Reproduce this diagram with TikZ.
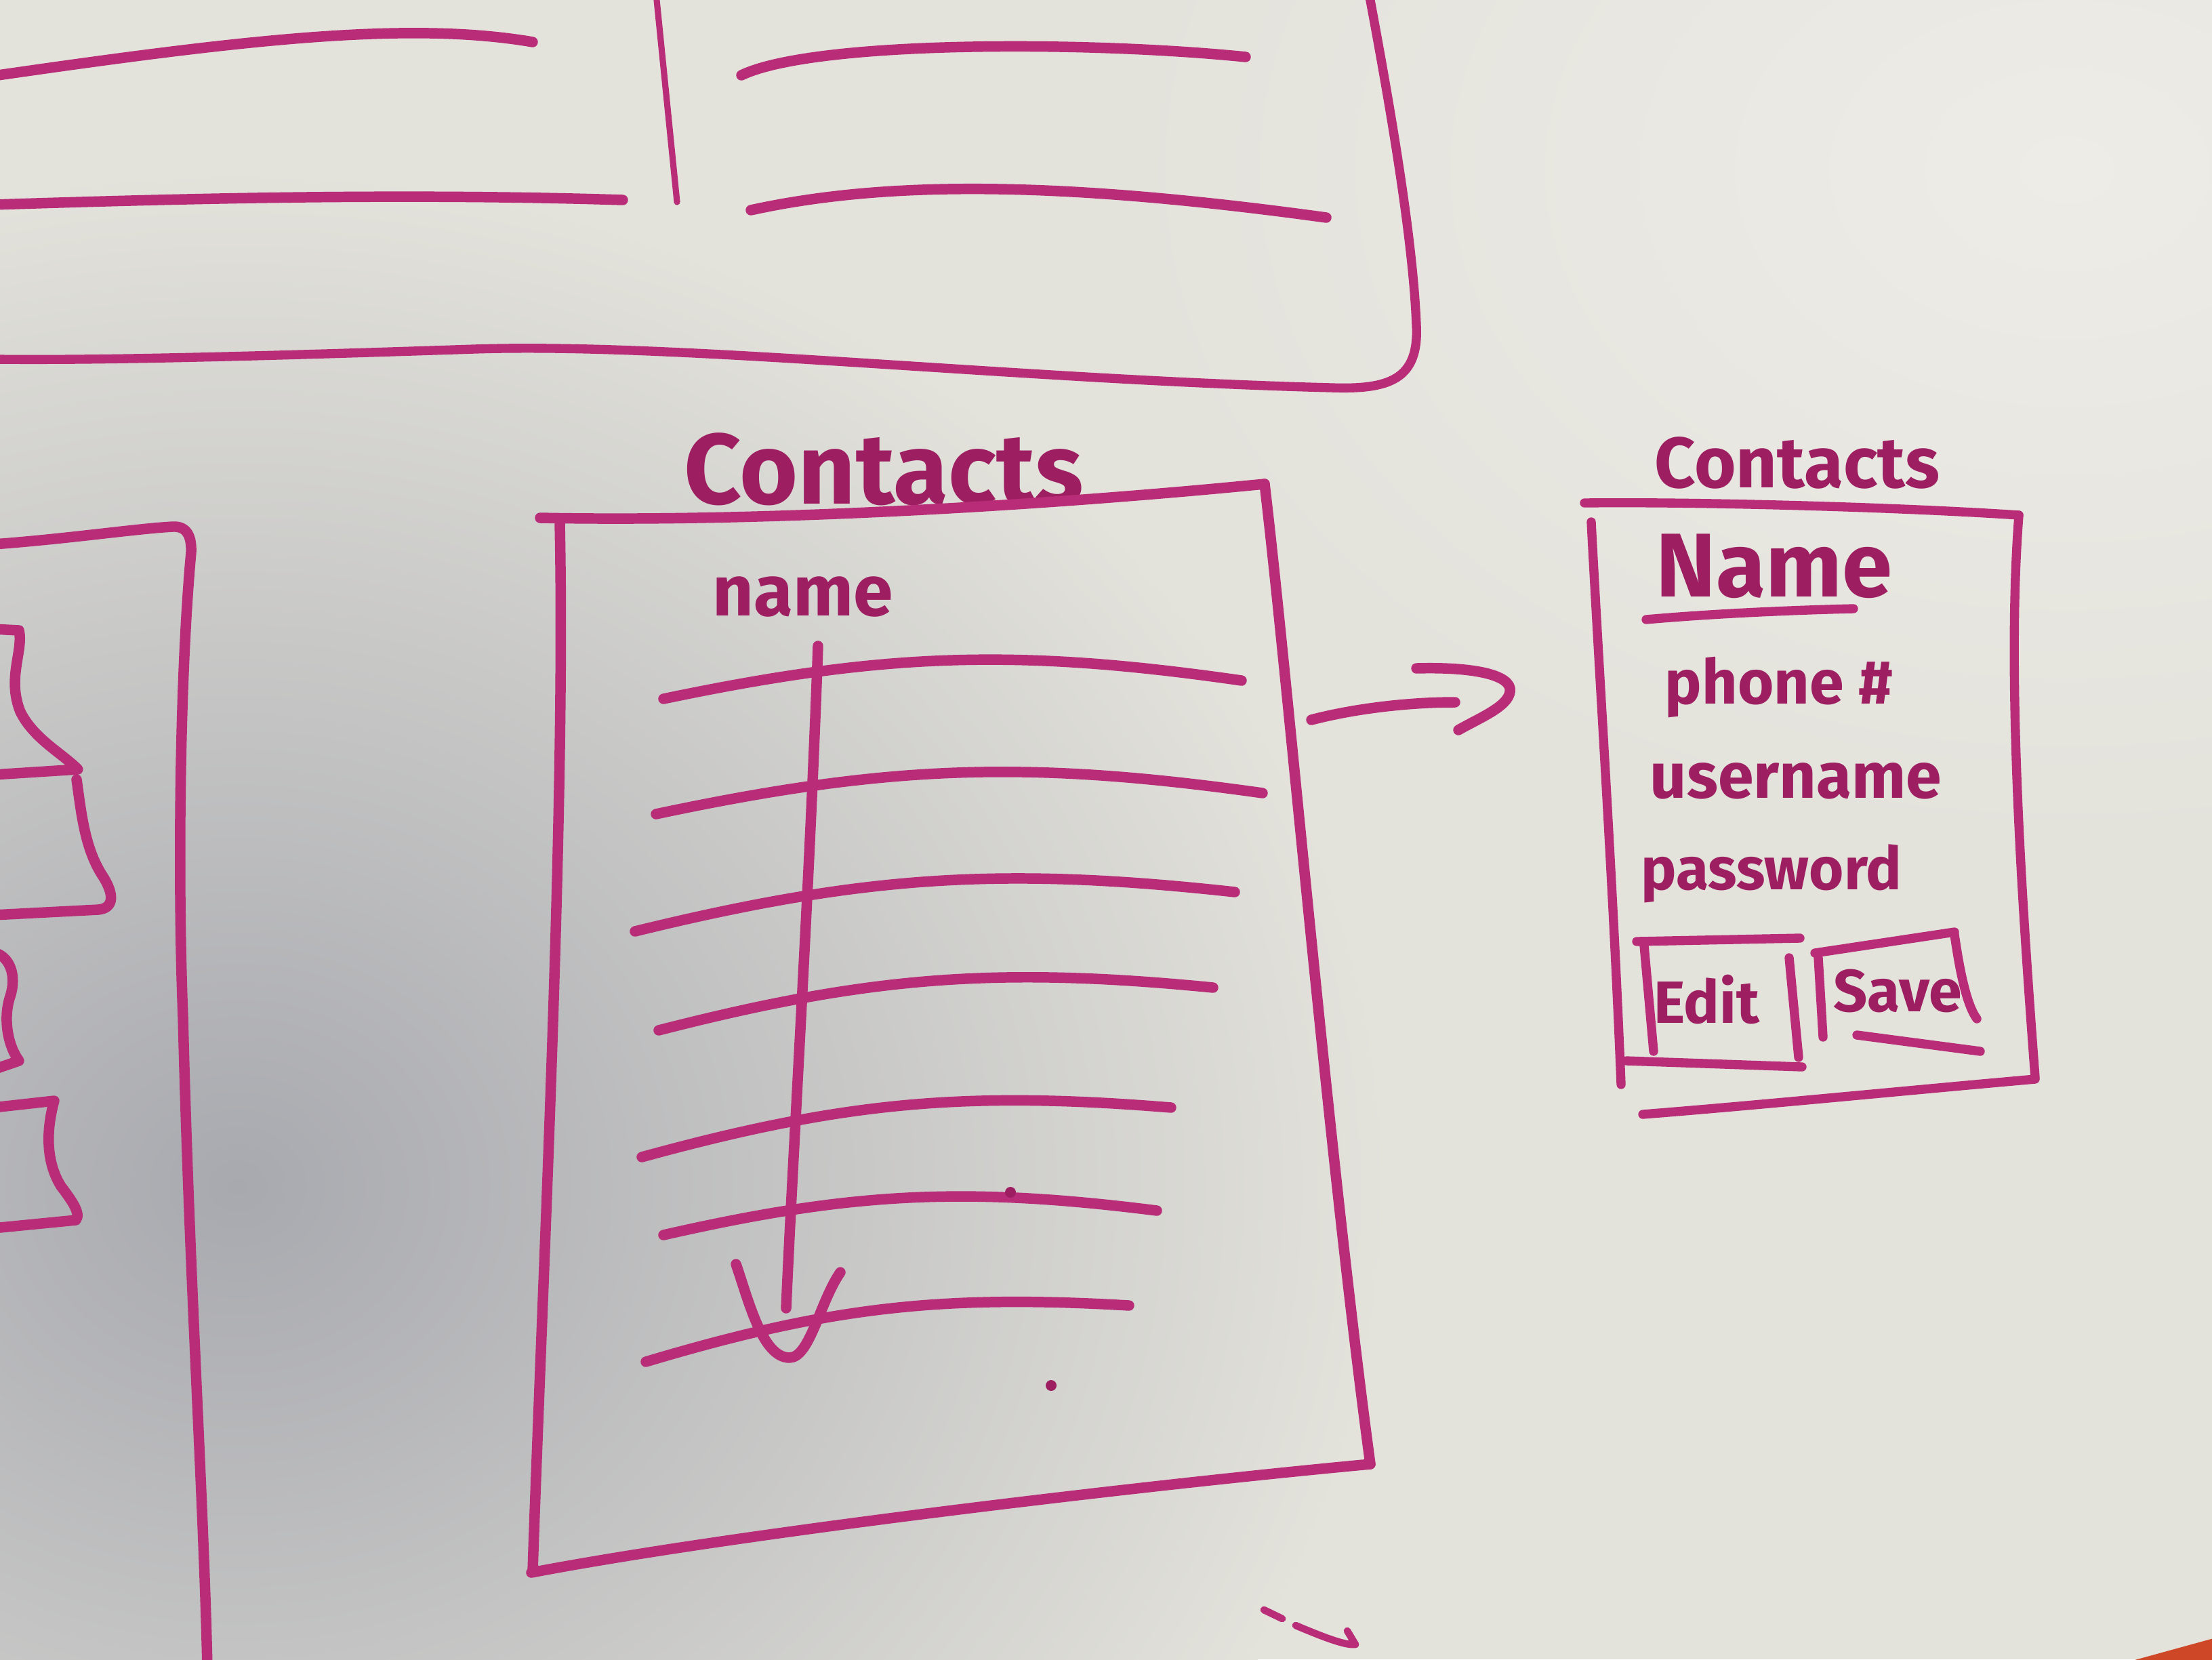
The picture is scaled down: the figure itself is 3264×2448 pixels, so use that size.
\documentclass[tikz,border=0pt]{standalone}
\usepackage{fontspec}
\newfontfamily\markerfont{Fira Sans}
\usepackage{tikz}
\usetikzlibrary{positioning}
\definecolor{board}{RGB}{227,226,219}
\definecolor{boardlight}{RGB}{237,236,231}
\definecolor{boardshade}{RGB}{168,169,175}
\definecolor{ink}{RGB}{184,44,120}
\definecolor{inkdark}{RGB}{158,30,98}
\definecolor{trim}{RGB}{206,72,40}
\newcommand\inkfont[1]{\markerfont\bfseries\fontsize{#1}{#1}\selectfont}
\tikzset{
  marker/.style={draw=ink, line width=4.4pt, line cap=round, line join=round},
  thinmarker/.style={draw=ink, line width=2.6pt, line cap=round, line join=round},
  framemarker/.style={draw=ink, line width=3.8pt, line cap=round, line join=round},
  inkdot/.style={fill=inkdark, draw=none}
}

\begin{document}
\begin{tikzpicture}[
  x=0.01cm, y=-0.01cm,
  % --- marker text ---
  scrawl/.style={text=inkdark, inner sep=0pt},
]

% --- Board ---
\useasboundingbox (0,0) rectangle (3264,2448);
\fill[board] (0,0) rectangle (3264,2448);
\shade[inner color=boardshade, outer color=board] (350,1750) ellipse [x radius=17cm, y radius=15cm];
\shade[inner color=boardlight, outer color=board] (3050,250) ellipse [x radius=14cm, y radius=10cm];
\fill[trim] (3110,2460) -- (3270,2416) -- (3270,2460) -- cycle;

% --- Top panel (cut off by the edge) ---
\draw[marker] (-10,112) .. controls (350,60) and (600,30) .. (786,62);
\draw[marker] (-10,302) .. controls (300,292) and (600,285) .. (919,295);
\draw[thinmarker] (968,-10) -- (999,298);
\draw[marker] (1094,111) .. controls (1200,60) and (1600,60) .. (1838,84);
\draw[marker] (1108,310) .. controls (1300,268) and (1550,265) .. (1957,321);
\draw[framemarker] (2020,-10) .. controls (2050,150) and (2085,350) .. (2090,480)
  .. controls (2094,560) and (2050,575) .. (1964,572)
  .. controls (1500,560) and (1000,505) .. (700,515)
  .. controls (400,525) and (150,532) .. (-10,530);

% --- Left panel (cut off by the edge) ---
\draw[marker] (-10,803) .. controls (100,795) and (200,780) .. (255,777)
  .. controls (275,776) and (283,790) .. (282,815)
  .. controls (265,1000) and (262,1300) .. (270,1500)
  .. controls (280,1900) and (300,2200) .. (306,2460);
\draw[marker] (-10,928) -- (28,930) .. controls (35,960) and (10,1000) .. (30,1050)
  .. controls (50,1090) and (90,1110) .. (115,1135) -- (-10,1143);
\draw[marker] (113,1150) .. controls (120,1200) and (125,1250) .. (150,1290)
  .. controls (170,1320) and (168,1340) .. (145,1342) -- (-10,1350);
\draw[marker] (-10,1405) .. controls (15,1410) and (25,1440) .. (15,1470)
  .. controls (5,1500) and (10,1540) .. (28,1565) -- (-10,1578);
\draw[marker] (-10,1634) -- (80,1624) .. controls (70,1660) and (65,1710) .. (90,1750)
  .. controls (105,1770) and (120,1790) .. (112,1800) -- (-10,1812);

% --- Contact list ---
\node[scrawl, font=\inkfont{42}] (listtitle) at (1304,692) {Contacts};
\draw[marker] (797,764) .. controls (1100,770) and (1500,750) .. (1866,714);
\draw[marker] (1866,714) .. controls (1900,1000) and (1960,1700) .. (2022,2160);
\draw[marker] (2022,2160) .. controls (1700,2190) and (1100,2260) .. (784,2320);
\draw[marker] (826,772) .. controls (835,1200) and (800,1900) .. (786,2318);
\node[scrawl, font=\inkfont{30}] (listheader) at (1185,880) {name};

% list rows
\foreach \ax/\ay/\bx/\by in {979/1031/1832/1004, 968/1201/1863/1170, 937/1374/1822/1316,
    972/1520/1790/1457, 947/1707/1728/1634, 979/1822/1707/1786, 953/2009/1666/1926} {
  \draw[marker] (\ax,\ay) to[bend left=10] (\bx,\by);
}

% scroll arrow
\coordinate (scrolltop) at (1207,953);
\coordinate (scrollend) at (1160,1930);
\draw[marker] (scrolltop) .. controls (1195,1300) and (1170,1700) .. (scrollend);
\draw[marker] (1086,1865) .. controls (1105,1920) and (1125,2003) .. (1165,2003)
  .. controls (1195,2003) and (1210,1920) .. (1240,1877);

% stray marks
\fill[inkdot] (1491,1759) circle (0.08cm);
\fill[inkdot] (1551,2044) circle (0.08cm);
\draw[marker, line width=3pt] (1865,2375) -- (1892,2388);
\draw[marker, line width=3pt] (1912,2398) .. controls (1950,2414) and (1985,2428) .. (2000,2426) -- (1988,2406);

% --- Arrow to detail view ---
\coordinate (listedge) at (1935,1062);
\coordinate (detailhead) at (2147,1036);
\draw[marker] (listedge) .. controls (2000,1045) and (2080,1036) .. (detailhead);
\draw[marker] (2090,986) .. controls (2160,984) and (2222,992) .. (2228,1015)
  .. controls (2232,1040) and (2185,1058) .. (2152,1077);

% --- Contact detail ---
\node[scrawl, font=\inkfont{30}] (detailtitle) at (2652,683) {Contacts};
\draw[framemarker] (2338,742) .. controls (2500,740) and (2800,748) .. (2979,760);
\draw[framemarker] (2979,760) .. controls (2960,1000) and (2985,1350) .. (3003,1590);
\draw[framemarker] (3003,1592) .. controls (2800,1610) and (2600,1630) .. (2424,1644);
\draw[framemarker] (2348,770) .. controls (2360,1000) and (2380,1300) .. (2392,1600);

\node[scrawl, font=\inkfont{38}] (detailname) at (2618,835) {Name};
\draw[framemarker] (2429,914) .. controls (2530,905) and (2650,900) .. (2735,898);
\node[scrawl, font=\inkfont{26}] (phonefield) at (2625,1014) {phone \#};
\node[scrawl, font=\inkfont{27}] (userfield) at (2650,1152) {username};
\node[scrawl, font=\inkfont{25}] (passfield) at (2614,1289) {password};

% buttons
\draw[framemarker] (2415,1389) -- (2656,1384);
\draw[framemarker] (2426,1395) -- (2440,1551);
\draw[framemarker] (2640,1413) -- (2654,1560);
\draw[framemarker] (2400,1565) -- (2659,1574);
\node[scrawl, font=\inkfont{25}] (editbtn) at (2518,1475) {Edit};
\draw[framemarker] (2678,1406) -- (2884,1375);
\draw[framemarker] (2683,1413) -- (2690,1530);
\draw[framemarker] (2884,1379) .. controls (2890,1420) and (2900,1480) .. (2917,1503);
\draw[framemarker] (2740,1527) -- (2922,1551);
\node[scrawl, font=\inkfont{25}] (savebtn) at (2800,1462) {Save};

\end{tikzpicture}
\end{document}
